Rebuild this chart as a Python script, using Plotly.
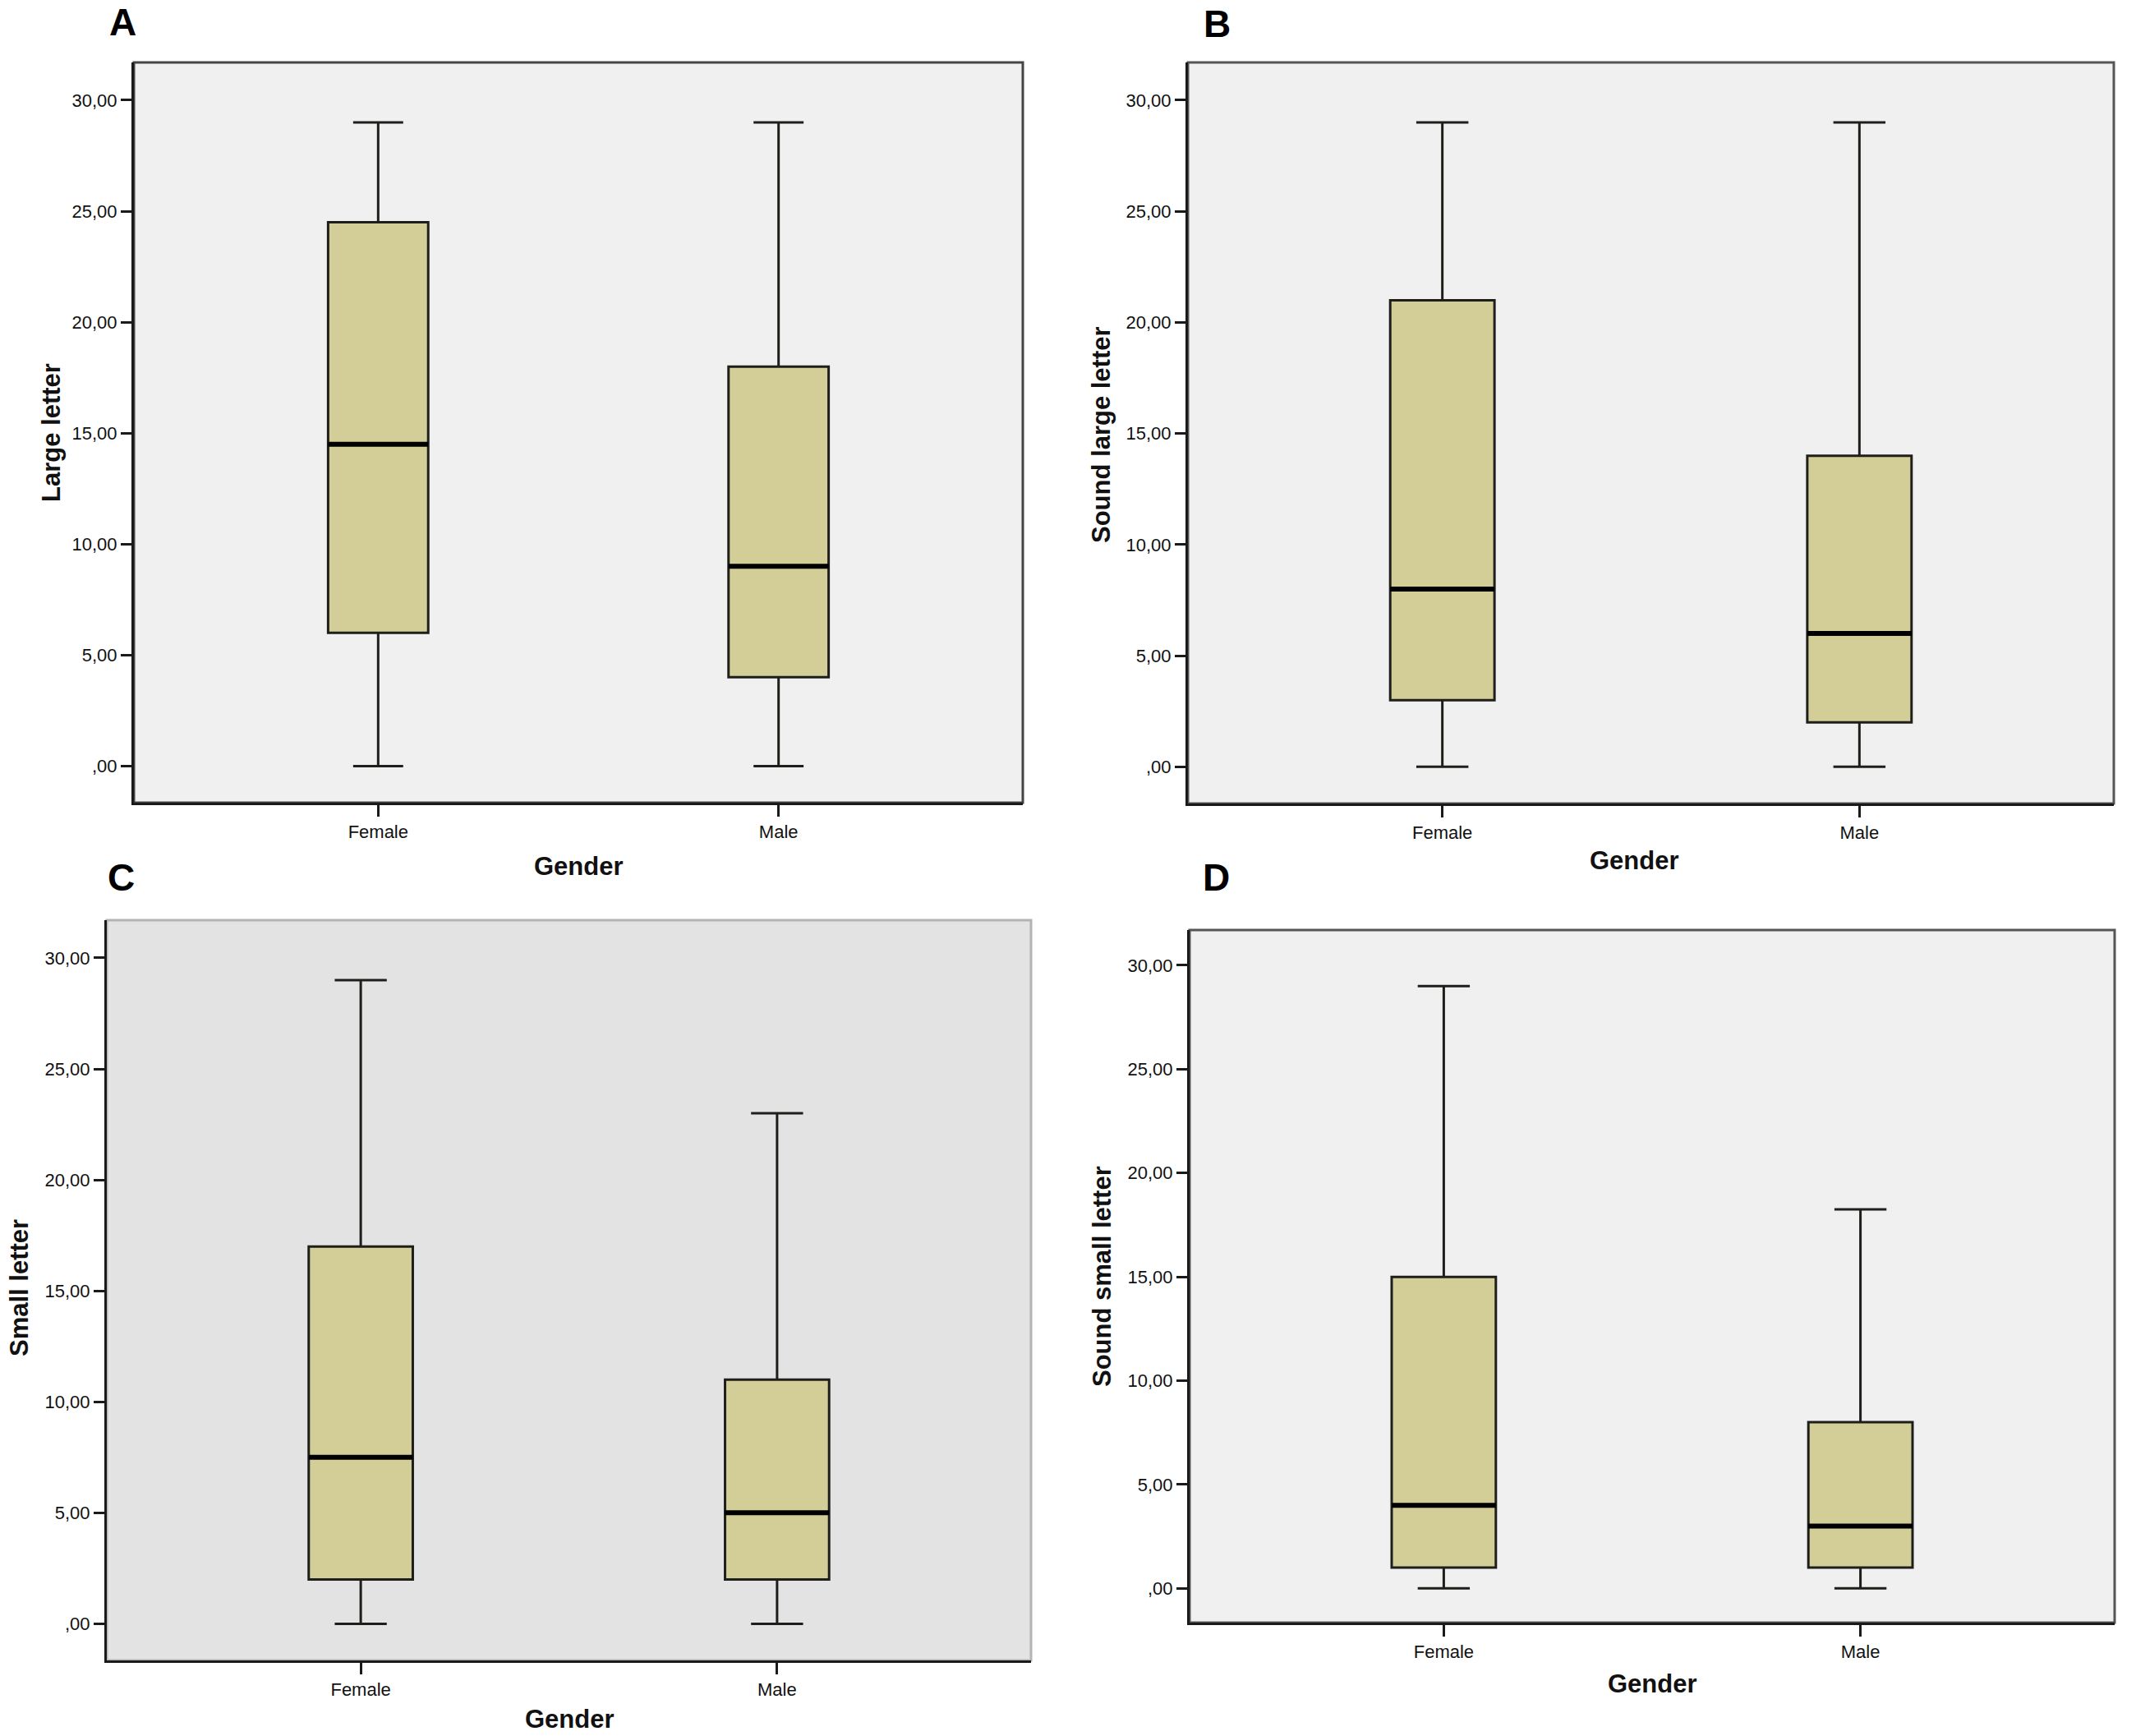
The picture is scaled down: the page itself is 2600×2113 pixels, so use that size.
import plotly.graph_objects as go

# ---------------- data ----------------
categories = ["Female", "Male"]
panel_labels = ["A", "B", "C", "D"]
y_titles = ["Large letter", "Sound large letter", "Small letter", "Sound small letter"]
x_title = "Gender"
tick_values = [0, 5, 10, 15, 20, 25, 30]
tick_labels = [",00", "5,00", "10,00", "15,00", "20,00", "25,00", "30,00"]

large_min = [0, 0]
large_q1 = [6, 4]
large_median = [14.5, 9]
large_q3 = [24.5, 18]
large_max = [29, 29]

sound_large_min = [0, 0]
sound_large_q1 = [3, 2]
sound_large_median = [8, 6]
sound_large_q3 = [21, 14]
sound_large_max = [29, 29]

small_min = [0, 0]
small_q1 = [2, 2]
small_median = [7.5, 5]
small_q3 = [17, 11]
small_max = [29, 23]

sound_small_min = [0, 0]
sound_small_q1 = [1, 1]
sound_small_median = [4, 3]
sound_small_q3 = [15, 8]
sound_small_max = [29, 18.25]

stats = [
    (large_min, large_q1, large_median, large_q3, large_max),
    (sound_large_min, sound_large_q1, sound_large_median, sound_large_q3, sound_large_max),
    (small_min, small_q1, small_median, small_q3, small_max),
    (sound_small_min, sound_small_q1, sound_small_median, sound_small_q3, sound_small_max),
]

# ---------------- layout geometry (pixels) ----------------
W, H = 2600, 2113
# left, right, top, bottom of each plot frame
frames = [(163, 1245, 76, 977), (1446, 2573, 76, 978), (130, 1255, 1120, 2021), (1448, 2574, 1132, 1975)]
bg_colors = ["#f0f0f0", "#f0f0f0", "#e3e3e3", "#f0f0f0"]
frame_colors = ["#444444", "#555555", "#b4b4b4", "#555555"]
letter_pos = [(149, 27), (1481, 29), (147, 1068), (1480, 1068)]
ytitle_pos = [(62, 527), (1340, 529), (23, 1568), (1341, 1554)]
xtitle_pos = [(704, 1054), (1990, 1047), (693, 2092), (2011, 2049)]

BOX_FILL = "#d3ce97"
TICK_FONT = dict(family="Liberation Sans Narrow, Arial Narrow, Liberation Sans, Arial, sans-serif", size=22, color="#111111")
TITLE_FONT = dict(family="Liberation Sans, Arial, sans-serif", size=31, color="#111111")
LETTER_FONT = dict(family="Liberation Sans, Arial, sans-serif", size=46, color="#000000")


def px(x):
    return x / W


def py(y):
    return 1 - y / H


fig = go.Figure()
layout = dict(
    width=W, height=H,
    margin=dict(l=0, r=0, t=0, b=0),
    paper_bgcolor="white", plot_bgcolor="rgba(0,0,0,0)",
    showlegend=False, boxmode="overlay",
)
shapes = []
annotations = []

for i in range(4):
    n = "" if i == 0 else str(i + 1)
    xa, ya = "x" + n, "y" + n
    mn, q1, med, q3, mx = stats[i]
    fig.add_trace(go.Box(
        x=categories, q1=q1, median=med, q3=q3, lowerfence=mn, upperfence=mx,
        xaxis=xa, yaxis=ya, boxpoints=False, width=0.25, whiskerwidth=0.5,
        fillcolor=BOX_FILL, line=dict(color="#1e1e1a", width=3), hoverinfo="skip",
    ))
    # thick median line
    fig.add_trace(go.Box(
        x=categories, q1=med, median=med, q3=med, lowerfence=med, upperfence=med,
        xaxis=xa, yaxis=ya, boxpoints=False, width=0.25, whiskerwidth=0,
        fillcolor="rgba(0,0,0,0)", line=dict(color="#000000", width=6), hoverinfo="skip",
    ))
    l, r, t, b = frames[i]
    layout["xaxis" + n] = dict(
        domain=[px(l), px(r)], anchor=ya, type="category",
        range=[-0.61, 1.61], showgrid=False, zeroline=False,
        showline=True, linecolor="#1a1a1a", linewidth=3,
        ticks="outside", ticklen=14, tickwidth=2.5, tickcolor="#1a1a1a",
        tickfont=TICK_FONT, fixedrange=True,
    )
    layout["yaxis" + n] = dict(
        domain=[py(b), py(t)], anchor=xa,
        range=[-1.65, 31.7], showgrid=False, zeroline=False,
        showline=True, linecolor="#1a1a1a", linewidth=3,
        ticks="outside", ticklen=13, tickwidth=2.5, tickcolor="#1a1a1a",
        tickvals=tick_values, ticktext=tick_labels,
        tickfont=TICK_FONT, fixedrange=True,
    )
    shapes.append(dict(
        type="rect", xref=xa + " domain", yref=ya + " domain",
        x0=0, x1=1, y0=0, y1=1, layer="below",
        fillcolor=bg_colors[i], line=dict(color=frame_colors[i], width=3),
    ))
    lx, ly = letter_pos[i]
    annotations.append(dict(
        text="<b>%s</b>" % panel_labels[i], x=px(lx), y=py(ly), xref="paper", yref="paper",
        showarrow=False, xanchor="center", yanchor="middle", font=LETTER_FONT,
    ))
    tx, ty = ytitle_pos[i]
    annotations.append(dict(
        text="<b>%s</b>" % y_titles[i], x=px(tx), y=py(ty), xref="paper", yref="paper",
        showarrow=False, xanchor="center", yanchor="middle", textangle=-90, font=TITLE_FONT,
    ))
    gx, gy = xtitle_pos[i]
    annotations.append(dict(
        text="<b>%s</b>" % x_title, x=px(gx), y=py(gy), xref="paper", yref="paper",
        showarrow=False, xanchor="center", yanchor="middle", font=TITLE_FONT,
    ))

layout["shapes"] = shapes
layout["annotations"] = annotations
fig.update_layout(**layout)
fig.write_html(
    "out.html",
    config={"displayModeBar": False},
    post_script="document.body.style.margin='0';document.body.style.overflow='hidden';",
)
